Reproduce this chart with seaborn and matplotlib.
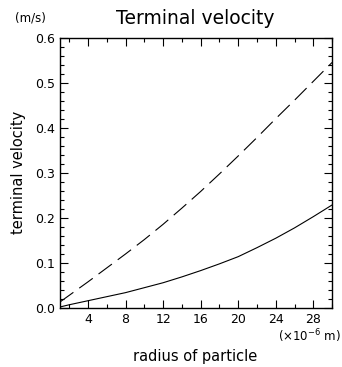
import seaborn as sns
import pandas as pd
import matplotlib.pyplot as plt
from matplotlib.ticker import MultipleLocator

# valeurs
radius = [1, 2, 4, 6, 8, 10, 12, 14, 16, 18, 20, 22, 24, 26, 28, 30]
v_solid = [0.002, 0.007, 0.016, 0.025, 0.034, 0.045, 0.056, 0.069, 0.083,
           0.098, 0.114, 0.134, 0.155, 0.178, 0.203, 0.229]
v_dashed = [0.013, 0.028, 0.058, 0.089, 0.120, 0.152, 0.186, 0.222, 0.259,
            0.298, 0.338, 0.379, 0.421, 0.462, 0.504, 0.546]

df = pd.DataFrame({
    "radius": radius * 2,
    "velocity": v_solid + v_dashed,
    "kind": ["solid"] * len(radius) + ["dashed"] * len(radius),
})

sns.set_theme(style="ticks")
plt.rcParams['font.family'] = ['DejaVu Sans']
plt.rcParams['text.color'] = "black"

fig = plt.figure(figsize=(3.42, 3.67), dpi=100)
ax = fig.add_axes([0.175, 0.161, 0.796, 0.735])

sns.lineplot(data=df, x="radius", y="velocity", style="kind",
             dashes={"solid": "", "dashed": (15, 6.5)},
             color="black", lw=0.8, legend=False, ax=ax)

ax.set_xlim(1, 30)
ax.set_ylim(0, 0.6)
ax.xaxis.set_major_locator(MultipleLocator(4))
ax.xaxis.set_minor_locator(MultipleLocator(2))
ax.yaxis.set_major_locator(MultipleLocator(0.1))
ax.yaxis.set_minor_locator(MultipleLocator(0.02))
ax.yaxis.set_major_formatter(plt.FormatStrFormatter("%.1f"))
ax.tick_params(which="both", direction="in", top=True, right=True,
               width=0.8, labelsize=9, colors="black")
ax.tick_params(which="major", length=6)
ax.tick_params(which="minor", length=3)
for s in ax.spines.values():
    s.set_linewidth(1.0)
    s.set_color("black")

ax.set_xlabel("")
ax.set_ylabel("")
fig.text(0.57, 0.95, "Terminal velocity", ha="center", va="center", fontsize=13.5)
fig.text(0.09, 0.95, "(m/s)", ha="center", va="center", fontsize=8.5)
fig.text(0.055, 0.53, "terminal velocity", ha="center", va="center",
         rotation=90, fontsize=10.5)
fig.text(0.995, 0.083, "(×10$^{-6}$ m)", ha="right", va="center", fontsize=8.5)
fig.text(0.57, 0.028, "radius of particle", ha="center", va="center", fontsize=10.5)

fig.savefig("out.png", dpi=100)
